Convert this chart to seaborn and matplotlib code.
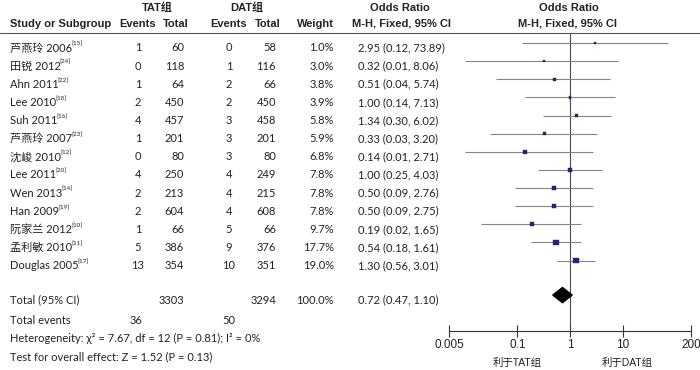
import numpy as np
import matplotlib
matplotlib.use("Agg")
import matplotlib.pyplot as plt
import matplotlib.transforms as mtransforms
from matplotlib.lines import Line2D
from matplotlib import font_manager
import seaborn as sns

# study data
studies = ["芦燕玲 2006", "田锐 2012", "Ahn 2011", "Lee 2010", "Suh 2011", "芦燕玲 2007",
           "沈峻 2010", "Lee 2011", "Wen 2013", "Han 2009", "阮家兰 2012", "孟利敏 2010",
           "Douglas 2005"]
refs = ["15", "24", "22", "18", "16", "23", "12", "20", "14", "19", "10", "11", "17"]
tat_events = [1, 0, 1, 2, 4, 1, 0, 4, 2, 2, 1, 5, 13]
tat_total = [60, 118, 64, 450, 457, 201, 80, 250, 213, 604, 66, 386, 354]
dat_events = [0, 1, 2, 2, 3, 3, 3, 4, 4, 4, 5, 9, 10]
dat_total = [58, 116, 66, 450, 458, 201, 80, 249, 215, 608, 66, 376, 351]
weights = [1.0, 3.0, 3.8, 3.9, 5.8, 5.9, 6.8, 7.8, 7.8, 7.8, 9.7, 17.7, 19.0]
odds = [2.95, 0.32, 0.51, 1.00, 1.34, 0.33, 0.14, 1.00, 0.50, 0.50, 0.19, 0.54, 1.30]
ci_lo = [0.12, 0.01, 0.04, 0.14, 0.30, 0.03, 0.01, 0.25, 0.09, 0.09, 0.02, 0.18, 0.56]
ci_hi = [73.89, 8.06, 5.74, 7.13, 6.02, 3.20, 2.71, 4.03, 2.76, 2.75, 1.65, 1.61, 3.01]

# pooled
total_tat, total_dat = 3303, 3294
events_tat, events_dat = 36, 50
pooled = [0.72, 0.47, 1.10]
heterogeneity = "Heterogeneity: χ² = 7.67, df = 12 (P = 0.81); I² = 0%"
overall = "Test for overall effect: Z = 1.52 (P = 0.13)"

x_ticks = [0.005, 0.1, 1, 10, 200]
x_ticklabels = ["0.005", "0.1", "1", "10", "200"]

sns.set_theme(style="white")

installed = {f.name for f in font_manager.fontManager.ttflist}
narrow = "Liberation Sans Narrow" if "Liberation Sans Narrow" in installed else "Liberation Sans"
body = ["Lato", "Noto Sans CJK SC", "DejaVu Sans"]
head = [narrow, "Noto Sans CJK SC", "DejaVu Sans"]
plt.rcParams["font.family"] = body

W, H = 700, 370
fig = plt.figure(figsize=(W / 100, H / 100), dpi=100)


def fx(x):
    return x / W


def fy(y):
    return 1 - y / H


# forest panel, rows in units of ~18 px
ax = fig.add_axes([fx(449), fy(331), fx(242), 298 / H])
rows = np.arange(len(studies))
total_row = 13.9

ax.hlines(rows, ci_lo, ci_hi, color="#858585", lw=0.8)
sns.scatterplot(x=odds, y=rows, size=weights, sizes=(2, 17), marker="s",
                color="#2e1f73", edgecolor="#2e1f73", linewidth=0.3,
                legend=False, ax=ax, zorder=3)
h = 0.42
ax.fill([pooled[1], pooled[0], pooled[2], pooled[0]],
        [total_row, total_row - h, total_row, total_row + h], color="black", zorder=3)
ax.axvline(1, color="#4a4a4a", lw=0.8, zorder=1)

ax.set_xscale("log")
ax.set_xlim(0.005, 200)
ax.set_ylim(15.88, -0.55)
ax.set_xticks(x_ticks)
ax.set_xticklabels(x_ticklabels, family=head, fontsize=8.5)
ax.minorticks_off()
ax.set_yticks([])
ax.tick_params(axis="x", direction="inout", length=8, width=0.8, color="#333333",
               pad=2, labelcolor="#222222", bottom=True)
for s in ["left", "right", "top"]:
    ax.spines[s].set_visible(False)
ax.spines["bottom"].set_color("#333333")
ax.spines["bottom"].set_linewidth(0.8)
ax.set_xlabel("")
ax.set_ylabel("")
ax.patch.set_alpha(0)

fig.text(fx(517), fy(363), "利于TAT组", ha="center", va="center", fontsize=7.5,
         family=head, color="#222222")
fig.text(fx(627), fy(363), "利于DAT组", ha="center", va="center", fontsize=7.5,
         family=head, color="#222222")

# header
hk = dict(family=head, fontsize=8, fontweight="bold", color="#222222", va="center")
fig.text(fx(157), fy(8), "TAT组", ha="center", **hk)
fig.text(fx(247), fy(8), "DAT组", ha="center", **hk)
fig.text(fx(400), fy(8), "Odds Ratio", ha="center", **hk)
fig.text(fx(569), fy(8), "Odds Ratio", ha="center", **hk)
fig.text(fx(10), fy(24), "Study or Subgroup", ha="left", **hk)
fig.text(fx(138), fy(24), "Events", ha="center", **hk)
fig.text(fx(176), fy(24), "Total", ha="center", **hk)
fig.text(fx(229), fy(24), "Events", ha="center", **hk)
fig.text(fx(268), fy(24), "Total", ha="center", **hk)
fig.text(fx(334), fy(24), "Weight", ha="right", **hk)
fig.text(fx(401), fy(24), "M-H, Fixed, 95% CI", ha="center", **hk)
fig.text(fx(568), fy(24), "M-H, Fixed, 95% CI", ha="center", **hk)
fig.add_artist(Line2D([0, 1], [fy(33), fy(33)], color="#555555", lw=0.8))

# table rows aligned to the forest rows
row_trans = mtransforms.blended_transform_factory(fig.transFigure, ax.transData)
row_trans = mtransforms.offset_copy(row_trans, fig=fig, y=-5, units="dots")
bk = dict(fontsize=8, color="#222222", va="center", transform=row_trans)

renderer = fig.canvas.get_renderer()
for i, name in enumerate(studies):
    t = fig.text(fx(10), i, name, ha="left", **bk)
    bb = t.get_window_extent(renderer)
    yc = row_trans.transform((0, i))[1]
    fig.text((bb.x1 - 1) / W, (yc + 4) / H, "[" + refs[i] + "]", ha="left", va="center",
             fontsize=4.5, color="#222222")
    fig.text(fx(138), i, str(tat_events[i]), ha="center", **bk)
    fig.text(fx(184), i, str(tat_total[i]), ha="right", **bk)
    fig.text(fx(229), i, str(dat_events[i]), ha="center", **bk)
    fig.text(fx(276), i, str(dat_total[i]), ha="right", **bk)
    fig.text(fx(334), i, f"{weights[i]:.1f}%", ha="right", **bk)
    fig.text(fx(358), i, f"{odds[i]:.2f} ({ci_lo[i]:.2f}, {ci_hi[i]:.2f})", ha="left", **bk)

fig.text(fx(10), total_row, "Total (95% CI)", ha="left", **bk)
fig.text(fx(184), total_row, str(total_tat), ha="right", **bk)
fig.text(fx(276), total_row, str(total_dat), ha="right", **bk)
fig.text(fx(334), total_row, "100.0%", ha="right", **bk)
fig.text(fx(358), total_row, f"{pooled[0]:.2f} ({pooled[1]:.2f}, {pooled[2]:.2f})", ha="left", **bk)

fk = dict(fontsize=8, color="#222222", va="center")
fig.text(fx(10), fy(320), "Total events", ha="left", **fk)
fig.text(fx(136), fy(320), str(events_tat), ha="center", **fk)
fig.text(fx(229), fy(320), str(events_dat), ha="center", **fk)
fig.text(fx(10), fy(338), heterogeneity, ha="left", **fk)
fig.text(fx(10), fy(357), overall, ha="left", **fk)

fig.savefig("out.png", dpi=100)
